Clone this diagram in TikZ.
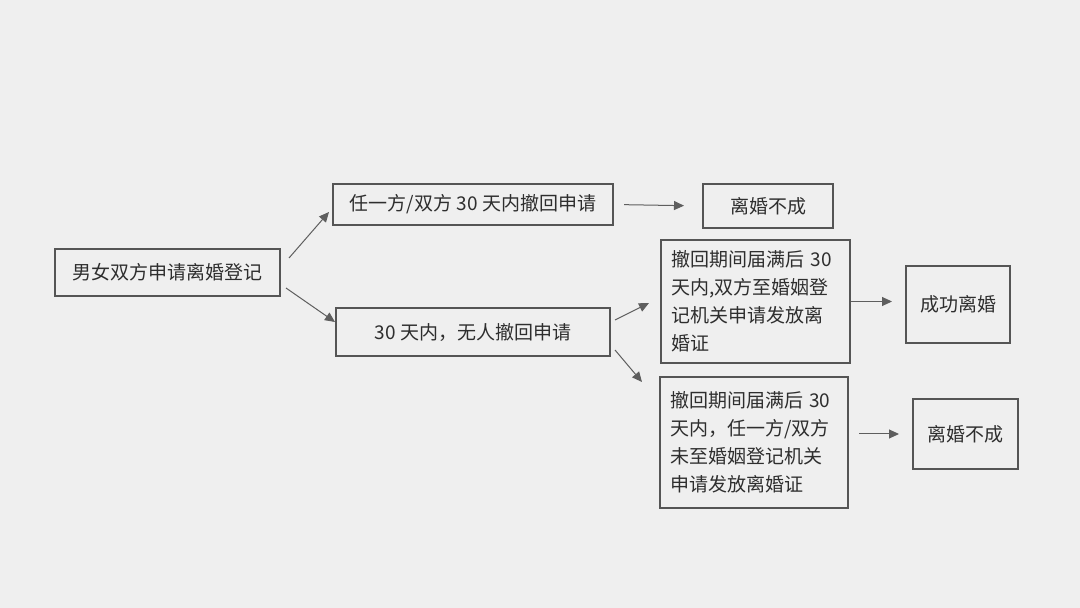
\documentclass[tikz,border=0pt]{standalone}
\usepackage{fontspec}
\setmainfont{Noto Sans CJK SC}
\usetikzlibrary{arrows.meta}
\definecolor{bgcol}{HTML}{EFEFEF}
\definecolor{boxcol}{HTML}{555555}
\definecolor{txtcol}{HTML}{2E2E2E}
\definecolor{arrcol}{HTML}{5E5E5E}

\begin{document}
\begin{tikzpicture}[x=0.5pt, y=-0.5pt,
    stepbox/.style={draw=boxcol, line width=1pt, text=txtcol, inner sep=0pt,
      font=\fontsize{9.5}{14}\selectfont},
    longbox/.style={stepbox, align=left, text width=84pt},
    arr/.style={draw=arrcol, line width=0.5pt, -{Triangle[length=5pt,width=4.5pt]}}]
        \fill[bgcol] (0,0) rectangle (1080,608);
        \node[stepbox, minimum width=112.5pt, minimum height=23.5pt] (apply) at (167.5,272.5) {男女双方申请离婚登记};
        \node[stepbox, minimum width=140pt, minimum height=20.5pt] (withdraw) at (473,204.5) {任一方/双方 30 天内撤回申请};
        \node[stepbox, minimum width=65pt, minimum height=22pt] (failA) at (768,206) {离婚不成};
        \node[stepbox, minimum width=137pt, minimum height=24pt] (nowithdraw) at (473,332) {30 天内，无人撤回申请};
        \node[longbox, minimum width=94.5pt, minimum height=61.5pt] (both) at (755.5,301.5)
          {撤回期间届满后 30\\天内,双方至婚姻登\\记机关申请发放离\\婚证};
        \node[stepbox, minimum width=52pt, minimum height=38.5pt] (success) at (958,304.5) {成功离婚};
        \node[longbox, minimum width=94pt, minimum height=65.5pt] (notboth) at (754,442.5)
          {撤回期间届满后 30\\天内，任一方/双方\\未至婚姻登记机关\\申请发放离婚证};
        \node[stepbox, minimum width=52.5pt, minimum height=35pt] (failB) at (965.5,434) {离婚不成};
        \draw[arr] ([xshift=4pt,yshift=7.25pt]apply.east) -- ([xshift=-1.5pt,yshift=-3.75pt]withdraw.west);
        \draw[arr] ([xshift=2.5pt,yshift=-7.75pt]apply.east) -- ([yshift=5pt]nowithdraw.west);
        \draw[arr, shorten <=5pt, shorten >=9pt] (withdraw.east) -- (failA.west);
        \draw[arr] ([xshift=2pt,yshift=6pt]nowithdraw.east) -- ([xshift=-5.5pt,yshift=-0.75pt]both.west);
        \draw[arr] ([xshift=2pt,yshift=-9pt]nowithdraw.east) -- ([xshift=-8.5pt,yshift=-3pt]notboth.north west);
        \draw[arr, shorten >=6.5pt] (both.east) -- (both.east -| success.west);
        \draw[arr, shorten <=5pt, shorten >=6.5pt] (failB.west -| notboth.east) -- (failB.west);
      \end{tikzpicture}
\end{document}
